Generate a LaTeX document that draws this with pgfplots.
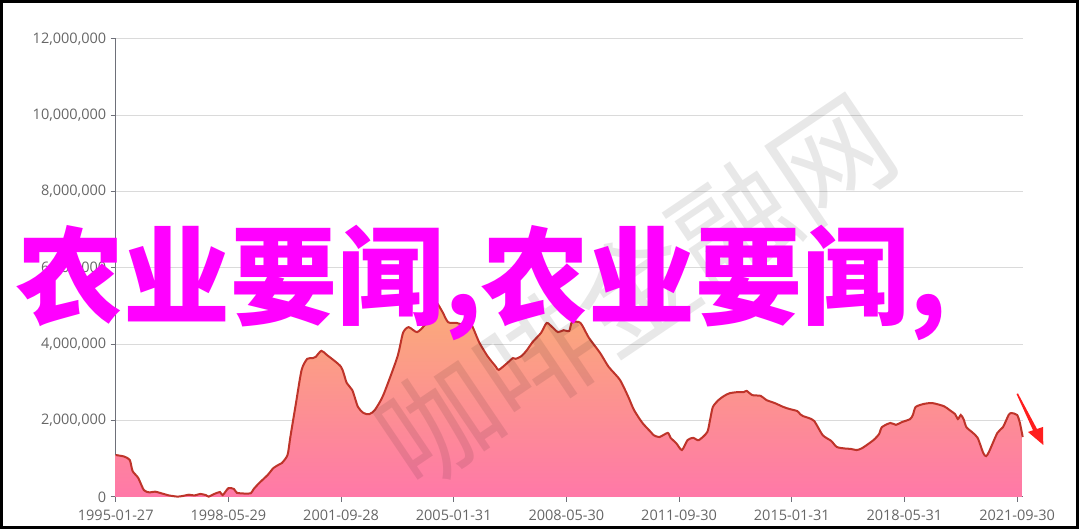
\documentclass[border=0pt]{standalone}
\usepackage{fontspec}
\setmainfont{Open Sans}
\newfontfamily\cjk{Noto Sans CJK SC}
\usepackage{pgfplots}
\usepackage{pgfplotstable}
\pgfplotsset{compat=1.18}
\definecolor{axisgray}{RGB}{110,112,121}
\definecolor{labelgray}{RGB}{102,102,102}
\definecolor{gridgray}{RGB}{218,218,218}
\definecolor{areatop}{RGB}{250,172,120}
\definecolor{areabot}{RGB}{255,120,168}
\definecolor{linered}{RGB}{190,52,42}
\definecolor{magentatxt}{RGB}{255,0,255}
\definecolor{arrowred}{RGB}{255,30,30}
\pgfplotstableread{
m v
0 1100000
3 1060000
5 970000
6 680000
8 500000
10 180000
12 120000
14 140000
17 80000
19 40000
22 10000
24 30000
26 60000
28 40000
30 80000
32 50000
33 10000
35 80000
37 130000
38 50000
40 230000
42 210000
43 110000
46 90000
48 100000
49 210000
51 370000
54 580000
56 760000
58 850000
59 890000
61 1100000
62 1570000
64 2460000
66 3330000
68 3620000
70 3640000
71 3670000
73 3830000
75 3720000
80 3410000
82 2990000
84 2800000
86 2360000
88 2200000
90 2170000
92 2280000
95 2670000
100 3670000
102 4300000
104 4450000
107 4320000
110 4530000
113 4900000
114 5080000
116 4850000
118 4580000
121 4560000
124 4500000
126 4560000
129 4060000
132 3690000
135 3410000
136 3330000
139 3510000
141 3640000
142 3620000
144 3690000
146 3850000
148 4060000
151 4300000
153 4560000
155 4450000
157 4320000
159 4370000
161 4350000
162 4580000
165 4560000
168 4170000
172 3770000
175 3410000
179 3070000
182 2620000
184 2280000
187 1940000
190 1700000
191 1620000
193 1570000
196 1680000
197 1550000
199 1410000
201 1230000
203 1490000
205 1550000
207 1490000
210 1700000
211 2020000
212 2360000
214 2540000
216 2650000
218 2720000
221 2750000
223 2750000
224 2780000
226 2670000
229 2650000
231 2540000
234 2460000
237 2360000
239 2310000
242 2250000
243 2170000
244 2120000
246 2070000
248 1990000
251 1620000
254 1470000
256 1310000
259 1270000
261 1260000
263 1230000
265 1280000
269 1490000
271 1650000
272 1830000
275 1940000
277 1890000
279 1960000
282 2040000
283 2150000
284 2360000
287 2440000
290 2460000
294 2380000
296 2280000
298 2170000
299 2040000
300 2150000
301 2040000
302 1830000
304 1700000
306 1550000
308 1150000
309 1070000
310 1180000
313 1680000
315 1830000
317 2150000
318 2200000
320 2150000
321 1940000
322 1570000
}\data
\begin{document}
\begin{tikzpicture}[x=1pt,y=1pt]
\useasboundingbox (0,0) rectangle (1080,530);
\begin{axis}[
  at={(115.7pt,33pt)}, anchor=south west,
  scale only axis, width=907.3pt, height=458pt,
  xmin=0, xmax=322.1, ymin=0, ymax=12000000,
  axis lines=left,
  axis line style={-, draw=axisgray, line width=1pt},
  tick align=outside,
  major tick length=5pt,
  tick style={draw=axisgray, line width=1pt},
  xtick={0,40,80,120,160,200,240,280,320},
  xticklabels={1995-01-27,1998-05-29,2001-09-28,2005-01-31,2008-05-30,2011-09-30,2015-01-31,2018-05-31,2021-09-30},
  ytick={0,2000000,4000000,6000000,8000000,10000000,12000000},
  scaled y ticks=false,
  /pgf/number format/fixed,
  /pgf/number format/precision=0,
  /pgf/number format/1000 sep={,},
  /pgf/number format/assume math mode=true,
  ticklabel style={font=\fontsize{14.5}{17}\selectfont, text=labelgray},
  xticklabel style={yshift=-4pt},
  yticklabel style={xshift=-1pt},
  ymajorgrids,
  major grid style={draw=gridgray, line width=1pt},
  clip=false,
]
\addplot[draw=none, top color=areatop, bottom color=areabot, smooth, tension=0.4] table[x=m,y=v]{\data} \closedcycle;
\addplot[draw=linered, line width=2pt, smooth, tension=0.4, mark=none] table[x=m,y=v]{\data};
\end{axis}
\node[rotate=34, text=black, opacity=0.09, font=\cjk\fontsize{118}{118}\selectfont] at (635,240) {咖啡金融网};
\node[anchor=base west, inner sep=0pt, text=magentatxt, font=\cjk\bfseries\fontsize{107}{107}\selectfont] at (16,213) {农业要闻,农业要闻,};
\fill[arrowred] (1016.5,136) -- (1033,99.7) -- (1028,98) -- (1043.3,85) -- (1043,103) -- (1037,101) -- (1018,136.5) -- cycle;
\draw[black, line width=3pt] (1.5,528) rectangle (1077,2.5);
\end{tikzpicture}
\end{document}
